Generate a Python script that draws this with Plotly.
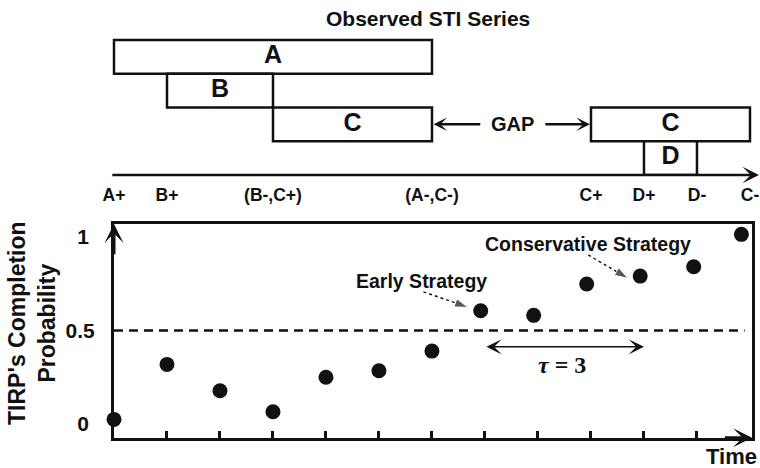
import plotly.graph_objects as go

# Observed symbolic time intervals (STIs): label, start, end, stacking row
sti_labels = ["A", "B", "C", "C", "D"]
sti_start = [0, 1, 3, 9, 10]
sti_end = [6, 3, 6, 12, 11]
sti_row = [3, 2, 1, 1, 0]

# Interval endpoints marked along the time line
endpoint_pos = [0, 1, 3, 6, 9, 10, 11, 12]
endpoint_text = ["A+", "B+", "(B-,C+)", "(A-,C-)", "C+", "D+", "D-", "C-"]

# TIRP completion probability at each time step
time_steps = [0, 1, 2, 3, 4, 5, 6, 6.92, 7.92, 8.92, 9.93, 10.94, 11.84]
completion_prob = [0.025, 0.319, 0.178, 0.066, 0.25, 0.285, 0.39,
                   0.606, 0.581, 0.749, 0.791, 0.841, 1.014]

time_ticks = [1, 2, 3, 4, 5, 6, 7, 8, 9, 10, 11]
prob_ticks = [0, 0.5, 1]
prob_tick_text = ["0\u2008", "0.5", "1\u2008"]
threshold = 0.5
tau_start, tau_end, tau_level = 7, 10, 0.413

# Strategy call-outs: label position, dashed pointer tail and tip
early_label = (5.81, 0.765)
early_pointer_x = [5.84, 6.68]
early_pointer_y = [0.707, 0.624]
cons_label = (8.94, 0.963)
cons_pointer_x = [8.95, 9.70]
cons_pointer_y = [0.904, 0.779]

SANS = "Liberation Sans, Arial, sans-serif"
BLACK = "#111111"

fig = go.Figure()

# --- top panel: STI boxes -------------------------------------------------
for lab, s, e, r in zip(sti_labels, sti_start, sti_end, sti_row):
    fig.add_trace(go.Bar(
        orientation="h", y=[r + 0.5], x=[e - s], base=[s], width=1,
        marker=dict(color="white", line=dict(color=BLACK, width=2.5)),
        xaxis="x2", yaxis="y2", showlegend=False, hoverinfo="skip",
    ))

fig.add_trace(go.Scatter(
    x=[(s + e) / 2 for s, e in zip(sti_start, sti_end)],
    y=[r + 0.5 for r in sti_row],
    mode="text", text=sti_labels,
    textfont=dict(family=SANS, size=25, color=BLACK, weight="bold"),
    xaxis="x2", yaxis="y2", showlegend=False, hoverinfo="skip",
))

# --- bottom panel: completion probability --------------------------------
fig.add_shape(type="line", xref="x", yref="y", x0=0, x1=11.9,
              y0=threshold, y1=threshold,
              line=dict(color=BLACK, width=2.5, dash="9px,6px"))

fig.add_trace(go.Scatter(
    x=time_steps, y=completion_prob, mode="markers",
    marker=dict(size=15, color=BLACK), cliponaxis=False,
    showlegend=False, xaxis="x", yaxis="y",
))

for px_, py_ in [(early_pointer_x, early_pointer_y), (cons_pointer_x, cons_pointer_y)]:
    fig.add_trace(go.Scatter(
        x=px_, y=py_, mode="lines+markers",
        line=dict(color=BLACK, width=1.4, dash="3px,3px"),
        marker=dict(symbol=["circle", "arrow"], size=[0, 14],
                    angleref="previous", color=BLACK),
        showlegend=False, xaxis="x", yaxis="y", cliponaxis=False,
    ))

ann = []
# title
ann.append(dict(text="Observed STI Series", xref="paper", yref="paper",
                x=0.5625, y=0.9605, xanchor="center", yanchor="middle",
                showarrow=False,
                font=dict(family=SANS, size=21, color=BLACK, weight="bold")))
# time line with arrow
ann.append(dict(text="", xref="x2", yref="y2", axref="x2", ayref="y2",
                x=12.17, y=0, ax=-0.06, ay=0, showarrow=True,
                arrowhead=3, arrowwidth=2.5, arrowsize=1.1, arrowcolor=BLACK))
# GAP marker
ann.append(dict(text="GAP", xref="x2", yref="y2", x=7.52, y=1.5, showarrow=False,
                xanchor="center", yanchor="middle",
                font=dict(family=SANS, size=20, color=BLACK, weight="bold")))
ann.append(dict(text="", xref="x2", yref="y2", axref="x2", ayref="y2",
                x=6.03, y=1.5, ax=6.94, ay=1.5, showarrow=True,
                arrowhead=3, arrowwidth=2.5, arrowsize=0.9, arrowcolor=BLACK))
ann.append(dict(text="", xref="x2", yref="y2", axref="x2", ayref="y2",
                x=8.98, y=1.5, ax=8.11, ay=1.5, showarrow=True,
                arrowhead=3, arrowwidth=2.5, arrowsize=0.9, arrowcolor=BLACK))
# axis arrows
ann.append(dict(text="", xref="x", yref="y", axref="x", ayref="y",
                x=0, y=1.0695, ax=0, ay=0.9, showarrow=True,
                arrowhead=3, arrowwidth=3, arrowsize=1.05, arrowcolor=BLACK))
ann.append(dict(text="", xref="x", yref="y", axref="x", ayref="y",
                x=12.04, y=-0.073, ax=11.5, ay=-0.073, showarrow=True,
                arrowhead=3, arrowwidth=3, arrowsize=1.05, arrowcolor=BLACK))
ann.append(dict(text="Time", xref="paper", yref="paper", x=0.963, y=0.0256,
                xanchor="center", yanchor="middle", showarrow=False,
                font=dict(family=SANS, size=22, color=BLACK, weight="bold")))
# y-axis title
ann.append(dict(text="TIRP's Completion<br>Probability", xref="paper", yref="paper",
                x=0.042, y=0.3098, xanchor="center", yanchor="middle",
                textangle=-90, showarrow=False,
                font=dict(family=SANS, size=23, color=BLACK, weight="bold")))
# tau window
ann.append(dict(text="", xref="x", yref="y", axref="x", ayref="y",
                x=tau_end, y=tau_level, ax=tau_start, ay=tau_level, showarrow=True,
                arrowside="end+start", arrowhead=3, startarrowhead=3,
                arrowwidth=1.5, arrowsize=1.7, startarrowsize=1.7, arrowcolor=BLACK))
ann.append(dict(text="<i>τ</i> = 3", xref="x", yref="y",
                x=(tau_start + tau_end) / 2 - 0.04, y=0.316, showarrow=False,
                xanchor="center", yanchor="middle",
                font=dict(family="Liberation Serif, DejaVu Serif, serif", size=24,
                          color=BLACK, weight="bold")))
# strategy labels
ann.append(dict(text="Early Strategy", xref="x", yref="y",
                x=early_label[0], y=early_label[1], showarrow=False,
                xanchor="center", yanchor="middle",
                font=dict(family=SANS, size=19.5, color=BLACK, weight="bold")))
ann.append(dict(text="Conservative Strategy", xref="x", yref="y",
                x=cons_label[0], y=cons_label[1], showarrow=False,
                xanchor="center", yanchor="middle",
                font=dict(family=SANS, size=19.5, color=BLACK, weight="bold")))

fig.update_layout(
    width=760, height=468,
    margin=dict(l=0, r=0, t=0, b=0),
    paper_bgcolor="white", plot_bgcolor="white",
    showlegend=False, annotations=ann, barmode="overlay",
    xaxis=dict(domain=[0.15, 0.98947], range=[0, 12.04], anchor="y",
               showline=True, linecolor=BLACK, linewidth=3, mirror=True,
               ticks="inside", ticklen=7, tickwidth=2.5, tickcolor=BLACK,
               tickvals=time_ticks, showticklabels=False,
               showgrid=False, zeroline=False),
    yaxis=dict(domain=[0.0647, 0.5214], range=[-0.073, 1.0695], anchor="x",
               showline=True, linecolor=BLACK, linewidth=3, mirror=True,
               ticks="", tickvals=prob_ticks, ticktext=prob_tick_text,
               ticklabelstandoff=12,
               tickfont=dict(family=SANS, size=21, color=BLACK, weight="bold"),
               showgrid=False, zeroline=False),
    xaxis2=dict(domain=[0, 1], range=[-2.151, 12.189], anchor="y2",
                showline=False, showgrid=False, zeroline=False, ticks="",
                tickvals=endpoint_pos, ticktext=endpoint_text,
                ticklabelstandoff=8,
                tickfont=dict(family=SANS, size=17.5, color=BLACK, weight="bold")),
    yaxis2=dict(domain=[0.62607, 1], range=[0, 5.185], anchor="x2", visible=False),
)

fig.write_html("out.html")
